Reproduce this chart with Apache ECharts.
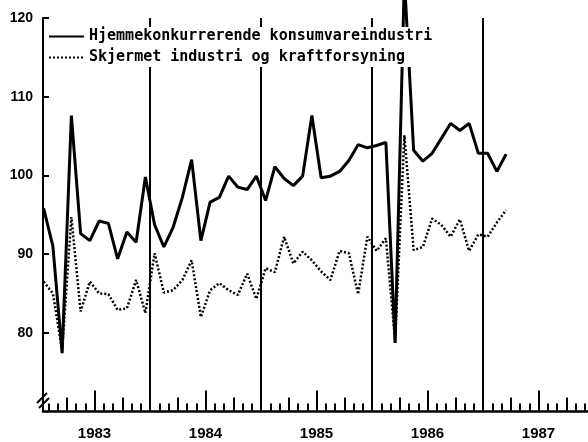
<!DOCTYPE html>
<html>
<head>
<meta charset="utf-8">
<script src="https://cdn.jsdelivr.net/npm/echarts@6/dist/echarts.min.js"></script>
<style>html,body{margin:0;padding:0;background:#fff}#c{width:588px;height:442px}</style>
</head>
<body>
<div id="c"></div>
<script>
// ---- data (monthly, Jan 1983 - Mar 1987) ----
const months = [
  '1983-01','1983-02','1983-03','1983-04','1983-05','1983-06','1983-07','1983-08','1983-09','1983-10','1983-11','1983-12',
  '1984-01','1984-02','1984-03','1984-04','1984-05','1984-06','1984-07','1984-08','1984-09','1984-10','1984-11','1984-12',
  '1985-01','1985-02','1985-03','1985-04','1985-05','1985-06','1985-07','1985-08','1985-09','1985-10','1985-11','1985-12',
  '1986-01','1986-02','1986-03','1986-04','1986-05','1986-06','1986-07','1986-08','1986-09','1986-10','1986-11','1986-12',
  '1987-01','1987-02','1987-03'
];
const hjemme = [
  95.8, 91.0, 77.4, 107.6, 92.6, 91.7, 94.2, 93.9, 89.4, 92.8, 91.5, 99.8,
  93.7, 90.9, 93.4, 97.2, 102.0, 91.7, 96.6, 97.2, 99.9, 98.5, 98.2, 99.9,
  96.8, 101.1, 99.6, 98.7, 99.9, 107.6, 99.7, 99.9, 100.5, 101.9, 103.9, 103.5,
  103.8, 104.2, 78.7, 125.0, 103.2, 101.8, 102.8, 104.7, 106.6, 105.7, 106.6, 102.8,
  102.8, 100.5, 102.7
];
const skjermet = [
  86.5, 85.0, 77.8, 94.7, 82.7, 86.5, 85.0, 84.9, 82.9, 83.1, 86.7, 82.5,
  90.1, 85.1, 85.4, 86.7, 89.2, 82.0, 85.4, 86.3, 85.4, 84.8, 87.5, 84.3,
  88.2, 87.7, 92.2, 88.8, 90.3, 89.2, 87.8, 86.7, 90.4, 90.1, 84.9, 92.2,
  90.4, 92.0, 79.0, 105.1, 90.5, 90.9, 94.5, 93.7, 92.2, 94.4, 90.4, 92.5,
  92.2, 94.0, 95.6
];
const yearLabels = ['1983','1984','1985','1986','1987'];
const yearBoundaries = [12, 24, 36, 48];   // months after Jan 1983
const seriesNames = ['Hjemmekonkurrerende konsumvareindustri', 'Skjermet industri og kraftforsyning'];

// ---- layout ----
const PX = 9.25;          // pixels per month
const X0 = 39;            // pixel of start of Jan 1983
const TMAX = 66;          // month at right end of axes (off canvas)
const TOP = 18, HEIGHT = 393.4;
const AXIS_LEFT = 43;
const dataMin = (AXIS_LEFT - X0) / PX;

const toPts = arr => arr.map((v, i) => [i + 0.5, v]);

function gridAt(leftPx) {
  return {left: leftPx, width: X0 + TMAX * PX - leftPx, top: TOP, height: HEIGHT,
          containLabel: false, outerBoundsMode: 'none'};
}
function tickAxis(gridIndex, startMonth, interval, len, labels) {
  return {
    type: 'value', gridIndex, min: 0, max: TMAX - startMonth, interval,
    axisLine: {show: false, onZero: false},
    axisTick: {show: true, inside: true, length: len, lineStyle: {color: '#000', width: 2}},
    splitLine: {show: false},
    axisLabel: labels ? {
      show: true, margin: 15, color: '#000', fontFamily: 'Liberation Sans', fontWeight: 'bold', fontSize: 15,
      showMaxLabel: false,
      formatter: v => yearLabels[Math.round(v / interval)] || ''
    } : {show: false}
  };
}
function hiddenY(gridIndex) {
  return {type: 'value', gridIndex, min: 0, max: 1, show: false};
}

const chart = echarts.init(document.getElementById('c'), null, {renderer: 'canvas'});
chart.setOption({
  animation: false,
  backgroundColor: '#fff',
  grid: [gridAt(AXIS_LEFT), gridAt(X0 + 1 * PX), gridAt(X0 + 3 * PX), gridAt(X0 + 6 * PX)],
  xAxis: [
    {
      type: 'value', gridIndex: 0, min: dataMin, max: TMAX,
      axisLine: {show: true, onZero: false, lineStyle: {color: '#000', width: 2.5}},
      axisTick: {show: false}, axisLabel: {show: false}, splitLine: {show: false}
    },
    tickAxis(1, 1, 1, 8, false),
    tickAxis(2, 3, 6, 14, false),
    tickAxis(3, 6, 12, 21, true)
  ],
  yAxis: [
    {
      type: 'value', gridIndex: 0, min: 70, max: 120, interval: 10,
      axisLine: {show: true, lineStyle: {color: '#000', width: 2}},
      axisTick: {show: true, inside: true, length: 6, lineStyle: {color: '#000', width: 2}},
      splitLine: {show: false},
      axisLabel: {showMinLabel: false, margin: 10, color: '#000', fontFamily: 'Liberation Sans', fontWeight: 'bold', fontSize: 14}
    },
    hiddenY(1), hiddenY(2), hiddenY(3)
  ],
  legend: {
    z: 20, zlevel: 0,
    left: 48, top: 27, orient: 'vertical', itemWidth: 35, itemHeight: 14, itemGap: 6,
    backgroundColor: '#fff', padding: [2, 6, 2, 0], selectedMode: false,
    data: seriesNames,
    itemStyle: {color: 'rgba(0,0,0,0)', borderColor: 'rgba(0,0,0,0)', borderWidth: 0},
    textStyle: {fontFamily: 'DejaVu Sans Mono', fontWeight: 'bold', fontSize: 15, color: '#000', lineHeight: 15}
  },
  graphic: [
    {type: 'line', z: 100, shape: {x1: 37, y1: 403, x2: 47, y2: 393}, style: {stroke: '#000', lineWidth: 2}},
    {type: 'line', z: 100, shape: {x1: 39, y1: 408, x2: 49, y2: 398}, style: {stroke: '#000', lineWidth: 2}}
  ],
  series: [
    {
      name: seriesNames[0], type: 'line', xAxisIndex: 0, yAxisIndex: 0, z: 2,
      data: toPts(hjemme), showSymbol: false, symbol: 'none', clip: false,
      lineStyle: {color: '#000', width: 3}, itemStyle: {color: '#000'},
      markLine: {
        silent: true, symbol: 'none', label: {show: false},
        lineStyle: {color: '#000', width: 2, type: 'solid'},
        data: yearBoundaries.map(m => ({xAxis: m}))
      }
    },
    {
      name: seriesNames[1], type: 'line', xAxisIndex: 0, yAxisIndex: 0, z: 2,
      data: toPts(skjermet), showSymbol: false, symbol: 'none', clip: false,
      lineStyle: {color: '#000', width: 2.5, type: [2, 2]}, itemStyle: {color: '#000'}
    }
  ]
});
</script>
</body>
</html>
